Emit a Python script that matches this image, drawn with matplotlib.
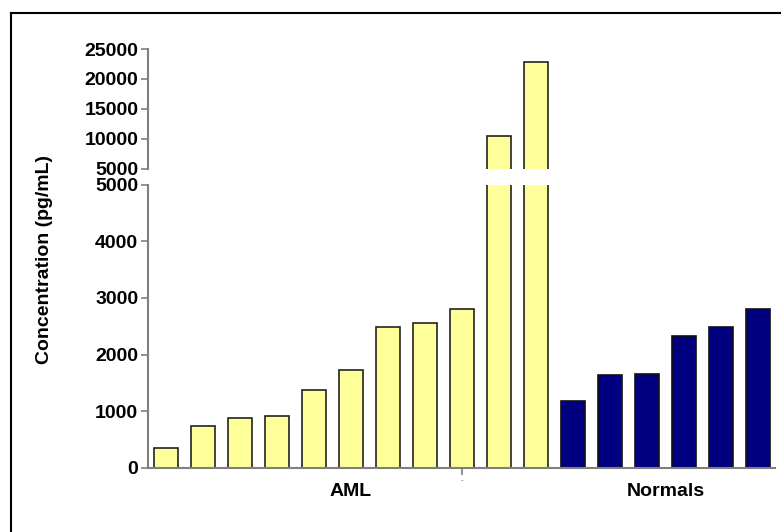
import matplotlib
matplotlib.use("Agg")
import matplotlib.pyplot as plt
from matplotlib.lines import Line2D

plt.rcParams['font.family'] = ['Liberation Sans', 'DejaVu Sans']
plt.rcParams['font.weight'] = 'bold'

aml = [350, 745, 880, 910, 1380, 1730, 2490, 2550, 2810, 10520, 22900]
normals = [1170, 1640, 1660, 2330, 2490, 2800]
groups = ['AML', 'Normals']
low_ticks = [0, 1000, 2000, 3000, 4000, 5000]
high_ticks = [5000, 10000, 15000, 20000, 25000]

W, H = 781, 532
fig = plt.figure(figsize=(W / 100, H / 100), dpi=100)


def px_axes(left, top, right, bottom):
    return fig.add_axes([left / W, 1 - bottom / H, (right - left) / W, (bottom - top) / H])


ax_hi = px_axes(148, 49, 775, 168.7)
ax_lo = px_axes(148, 184.7, 775, 467.7)

xa = list(range(len(aml)))
xn = [len(aml) + i for i in range(len(normals))]
spine = '#7f7f7f'

for ax in (ax_hi, ax_lo):
    ax.bar(xa, aml, width=0.667, color='#ffff99', edgecolor='#222222', linewidth=1.2)
    ax.bar(xn, normals, width=0.667, color='#000080', edgecolor='#111111', linewidth=1.2)
    ax.set_xlim(-0.486, 16.46)
    for s in ('top', 'right'):
        ax.spines[s].set_visible(False)
    ax.spines['left'].set_color(spine)
    ax.spines['left'].set_linewidth(1.5)
    ax.tick_params(axis='y', length=5, width=1.2, color=spine, labelsize=14, pad=2)

ax_hi.set_ylim(5000, 25000)
ax_hi.set_yticks(high_ticks)
ax_hi.spines['bottom'].set_visible(False)
ax_hi.set_xticks([])

ax_lo.set_ylim(0, 5000)
ax_lo.set_yticks(low_ticks)
ax_lo.spines['bottom'].set_color(spine)
ax_lo.spines['bottom'].set_linewidth(1.5)
ax_lo.set_xticks([8])
ax_lo.set_xticklabels([''])
ax_lo.tick_params(axis='x', length=5, width=1.2, color=spine)

centers = [sum(xa) / len(xa), sum(xn) / len(xn)]
for c, g in zip(centers, groups):
    ax_lo.text(c, -0.085, g, transform=ax_lo.get_xaxis_transform(), ha='center', va='center',
               fontsize=14, fontweight='bold')
ax_lo.text(8, -0.055, '`', transform=ax_lo.get_xaxis_transform(), ha='center', va='center',
           fontsize=6, color='#555555')

fig.text(45 / W, 1 - 260 / H, 'Concentration (pg/mL)', rotation=90, ha='center', va='center',
         fontsize=14, fontweight='bold')

# frame around the figure (right and bottom edges fall outside)
fig.add_artist(Line2D([11 / W, 11 / W], [0, 1 - 13 / H], transform=fig.transFigure, color='black', lw=1.5))
fig.add_artist(Line2D([11 / W, 1], [1 - 13 / H, 1 - 13 / H], transform=fig.transFigure, color='black', lw=1.5))

fig.savefig('out.png', dpi=100)
